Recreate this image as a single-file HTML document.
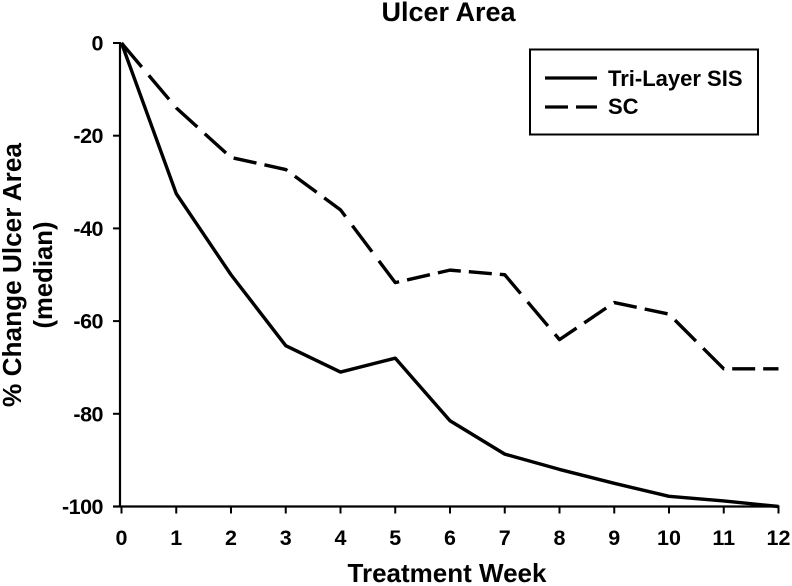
<!DOCTYPE html>
<html>
<head>
<meta charset="utf-8">
<style>
html,body{margin:0;padding:0;background:#fff;width:792px;height:586px;overflow:hidden}
svg{display:block}
text{font-family:"Liberation Sans",Arial,sans-serif;font-weight:bold;fill:#000}
</style>
</head>
<body>
<svg id="chart" width="792" height="586" viewBox="0 0 792 586" xmlns="http://www.w3.org/2000/svg">
<text x="448.5" y="21" font-size="27" text-anchor="middle">Ulcer Area</text>
<text transform="translate(21,275) rotate(-90)" font-size="26.2" text-anchor="middle">% Change Ulcer Area</text>
<text transform="translate(52,275) rotate(-90)" font-size="25.7" text-anchor="middle">(median)</text>
<text x="447" y="582" font-size="26" text-anchor="middle">Treatment Week</text>
<g id="axes"></g>
<g id="series"></g>
<g>
<rect x="530" y="49.5" width="228" height="85" fill="#fff" stroke="#000" stroke-width="2"/>
<line x1="545" y1="78" x2="597" y2="78" stroke="#000" stroke-width="3.2"/>
<text x="608" y="86" font-size="22">Tri-Layer SIS</text>
<line x1="545" y1="107" x2="597" y2="107" stroke="#000" stroke-width="3.2" stroke-dasharray="23 8"/>
<text x="608" y="114" font-size="22">SC</text>
</g>
</svg>
<script>
var weeks = [0,1,2,3,4,5,6,7,8,9,10,11,12];
var triLayerSis = [0,-32.5,-50,-65.3,-71,-68,-81.5,-88.7,-92,-95,-97.8,-98.8,-100];
var sc = [0,-14,-24.7,-27.3,-36,-51.7,-49,-50,-64,-56,-58.5,-70.3,-70.3];
var yTicks = [0,-20,-40,-60,-80,-100];
var xTicks = [0,1,2,3,4,5,6,7,8,9,10,11,12];

var NS = 'http://www.w3.org/2000/svg';
function xPos(v){ return 121.5 + (v - 0) * (778.5 - 121.5) / 12; }
function yPos(v){ return 43 + (0 - v) * (506.5 - 43) / 100; }
function make(tag, attrs, parent){
  var el = document.createElementNS(NS, tag);
  for (var k in attrs) el.setAttribute(k, attrs[k]);
  parent.appendChild(el);
  return el;
}
var axes = document.getElementById('axes');
var spineY = make('line', {x1:120, y1:yPos(0)-1, x2:120, y2:yPos(-100)+1, stroke:'#000', 'stroke-width':2.2}, axes);


var spineX = make('line', {x1:113, y1:yPos(-100), x2:xPos(12)+1, y2:yPos(-100), stroke:'#000', 'stroke-width':2.2}, axes);



yTicks.forEach(function(t){
  var y = yPos(t);
  var tick = make('line', {x1:113, y1:y, x2:120, y2:y, stroke:'#000', 'stroke-width':2}, axes);
  
  
  var label = make('text', {x:103, y:y+7.5, 'font-size':21.5, 'text-anchor':'end', 'letter-spacing':'-0.5'}, axes);
  
  
  label.textContent = t;
});
xTicks.forEach(function(t){
  var x = xPos(t);
  var tick = make('line', {x1:x, y1:yPos(-100), x2:x, y2:yPos(-100)+7, stroke:'#000', 'stroke-width':2}, axes);
  
  
  var label = make('text', {x:x, y:545, 'font-size':21.5, 'text-anchor':'middle'}, axes);
  
  
  label.textContent = t;
});

function points(vals){
  return vals.map(function(v, i){ return xPos(weeks[i]) + ',' + yPos(v); }).join(' ');
}
/* The source image is vertically stretched, so dash length is measured with y compressed. */
function dashedPath(vals, dash, gap, ySquash){
  var d = '', period = dash + gap, travelled = 0;
  for (var i = 0; i < vals.length - 1; i++){
    var x0 = xPos(weeks[i]), y0 = yPos(vals[i]);
    var x1 = xPos(weeks[i + 1]), y1 = yPos(vals[i + 1]);
    var len = Math.sqrt(Math.pow(x1 - x0, 2) + Math.pow((y1 - y0) / ySquash, 2));
    var pos = 0;
    while (pos < len){
      var phase = (travelled + pos) % period;
      var on = phase < dash;
      var step = Math.min(on ? dash - phase : period - phase, len - pos);
      if (on){
        var a = pos / len, b = (pos + step) / len;
        var sx = x0 + (x1 - x0) * a, sy = y0 + (y1 - y0) * a;
        var ex = x0 + (x1 - x0) * b, ey = y0 + (y1 - y0) * b;
        d += (phase === 0 || pos === 0 && i === 0 ? 'M' : (pos === 0 ? 'L' : 'M')) + sx.toFixed(2) + ' ' + sy.toFixed(2) + 'L' + ex.toFixed(2) + ' ' + ey.toFixed(2);
      }
      pos += step;
    }
    travelled += len;
  }
  return d;
}
var group = document.getElementById('series');
var lineSis = make('polyline', {points:points(triLayerSis), fill:'none', stroke:'#000', 'stroke-width':3.4, 'stroke-linejoin':'round'}, group);


var lineSc = make('path', {d:dashedPath(sc, 23, 8, 2.2), fill:'none', stroke:'#000', 'stroke-width':3.4, 'stroke-linejoin':'round'}, group);


</script>
</body>
</html>
